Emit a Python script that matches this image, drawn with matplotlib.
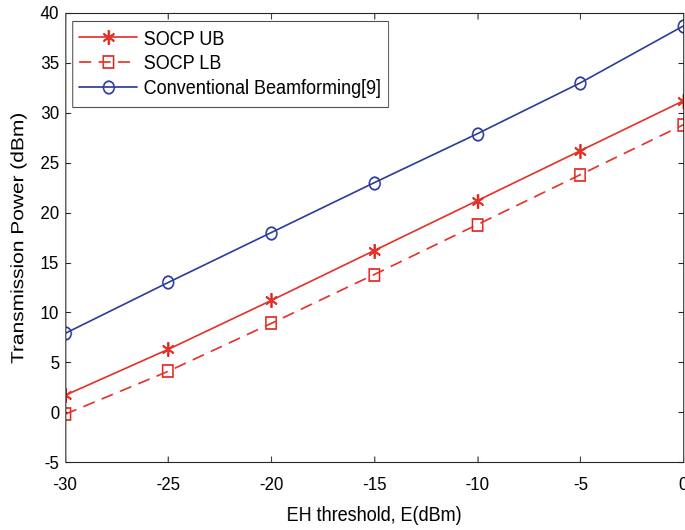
import io
import matplotlib
matplotlib.use("Agg")
import matplotlib.pyplot as plt
from PIL import Image

plt.rcParams['font.family'] = ['Liberation Sans', 'DejaVu Sans']

eh_threshold = [-30, -25, -20, -15, -10, -5, 0]
socp_ub = [1.7, 6.3, 11.2, 16.2, 21.2, 26.2, 31.2]
socp_lb = [-0.2, 4.1, 8.9, 13.8, 18.8, 23.8, 28.8]
conventional = [7.9, 13.0, 18.0, 23.0, 27.9, 33.0, 38.7]

x_ticks = [-30, -25, -20, -15, -10, -5, 0]
y_ticks = [-5, 0, 5, 10, 15, 20, 25, 30, 35, 40]

red = '#e4332b'
blue = '#2d3f99'

# drawn on a wider canvas, then narrowed to the final 685x530 size
final_w, final_h = 685, 530
stretch = 0.86
fig = plt.figure(figsize=(final_w / stretch / 100, final_h / 100), dpi=100)
ax = fig.add_axes([0.095, 0.128, 0.902, 0.8475])

ax.plot(eh_threshold, socp_ub, color=red, lw=1.25, marker=(6, 2, 0),
        ms=10.5, mew=1.4, label='SOCP UB')
ax.plot(eh_threshold, socp_lb, color=red, lw=1.25, ls=(0, (8, 5)), marker='s',
        ms=8, mfc='none', mew=1.3, label='SOCP LB')
ax.plot(eh_threshold, conventional, color=blue, lw=1.25, marker='o',
        ms=9, mfc='none', mew=1.3, label='Conventional Beamforming[9]')

ax.set_xlim(-30, 0)
ax.set_ylim(-5, 40)
ax.set_xticks(x_ticks)
ax.set_yticks(y_ticks)
ax.set_xticklabels([str(v) for v in x_ticks])
ax.set_yticklabels([str(v) for v in y_ticks])

edge = '#262626'
for s in ax.spines.values():
    s.set_color(edge)
    s.set_linewidth(0.8)
ax.tick_params(direction='in', length=4.5, width=0.8, colors=edge,
               labelcolor='black', labelsize=14, top=True, right=True)
ax.tick_params(axis='x', pad=11)
ax.tick_params(axis='y', pad=5)

ax.set_xlabel('EH threshold, E(dBm)', fontsize=15, labelpad=8)
ax.set_ylabel('Transmission Power (dBm)', fontsize=15, labelpad=11)

leg = ax.legend(loc='upper left', fontsize=15, frameon=True, fancybox=False,
                edgecolor=edge, borderaxespad=0.4, handlelength=3.2,
                borderpad=0.4, labelspacing=0.28, handletextpad=0.4)
leg.get_frame().set_linewidth(0.8)

buf = io.BytesIO()
fig.savefig(buf, dpi=100, format='png')
buf.seek(0)
img = Image.open(buf).convert('RGB')
img = img.resize((final_w, final_h), Image.LANCZOS)
img.save('out.png')
